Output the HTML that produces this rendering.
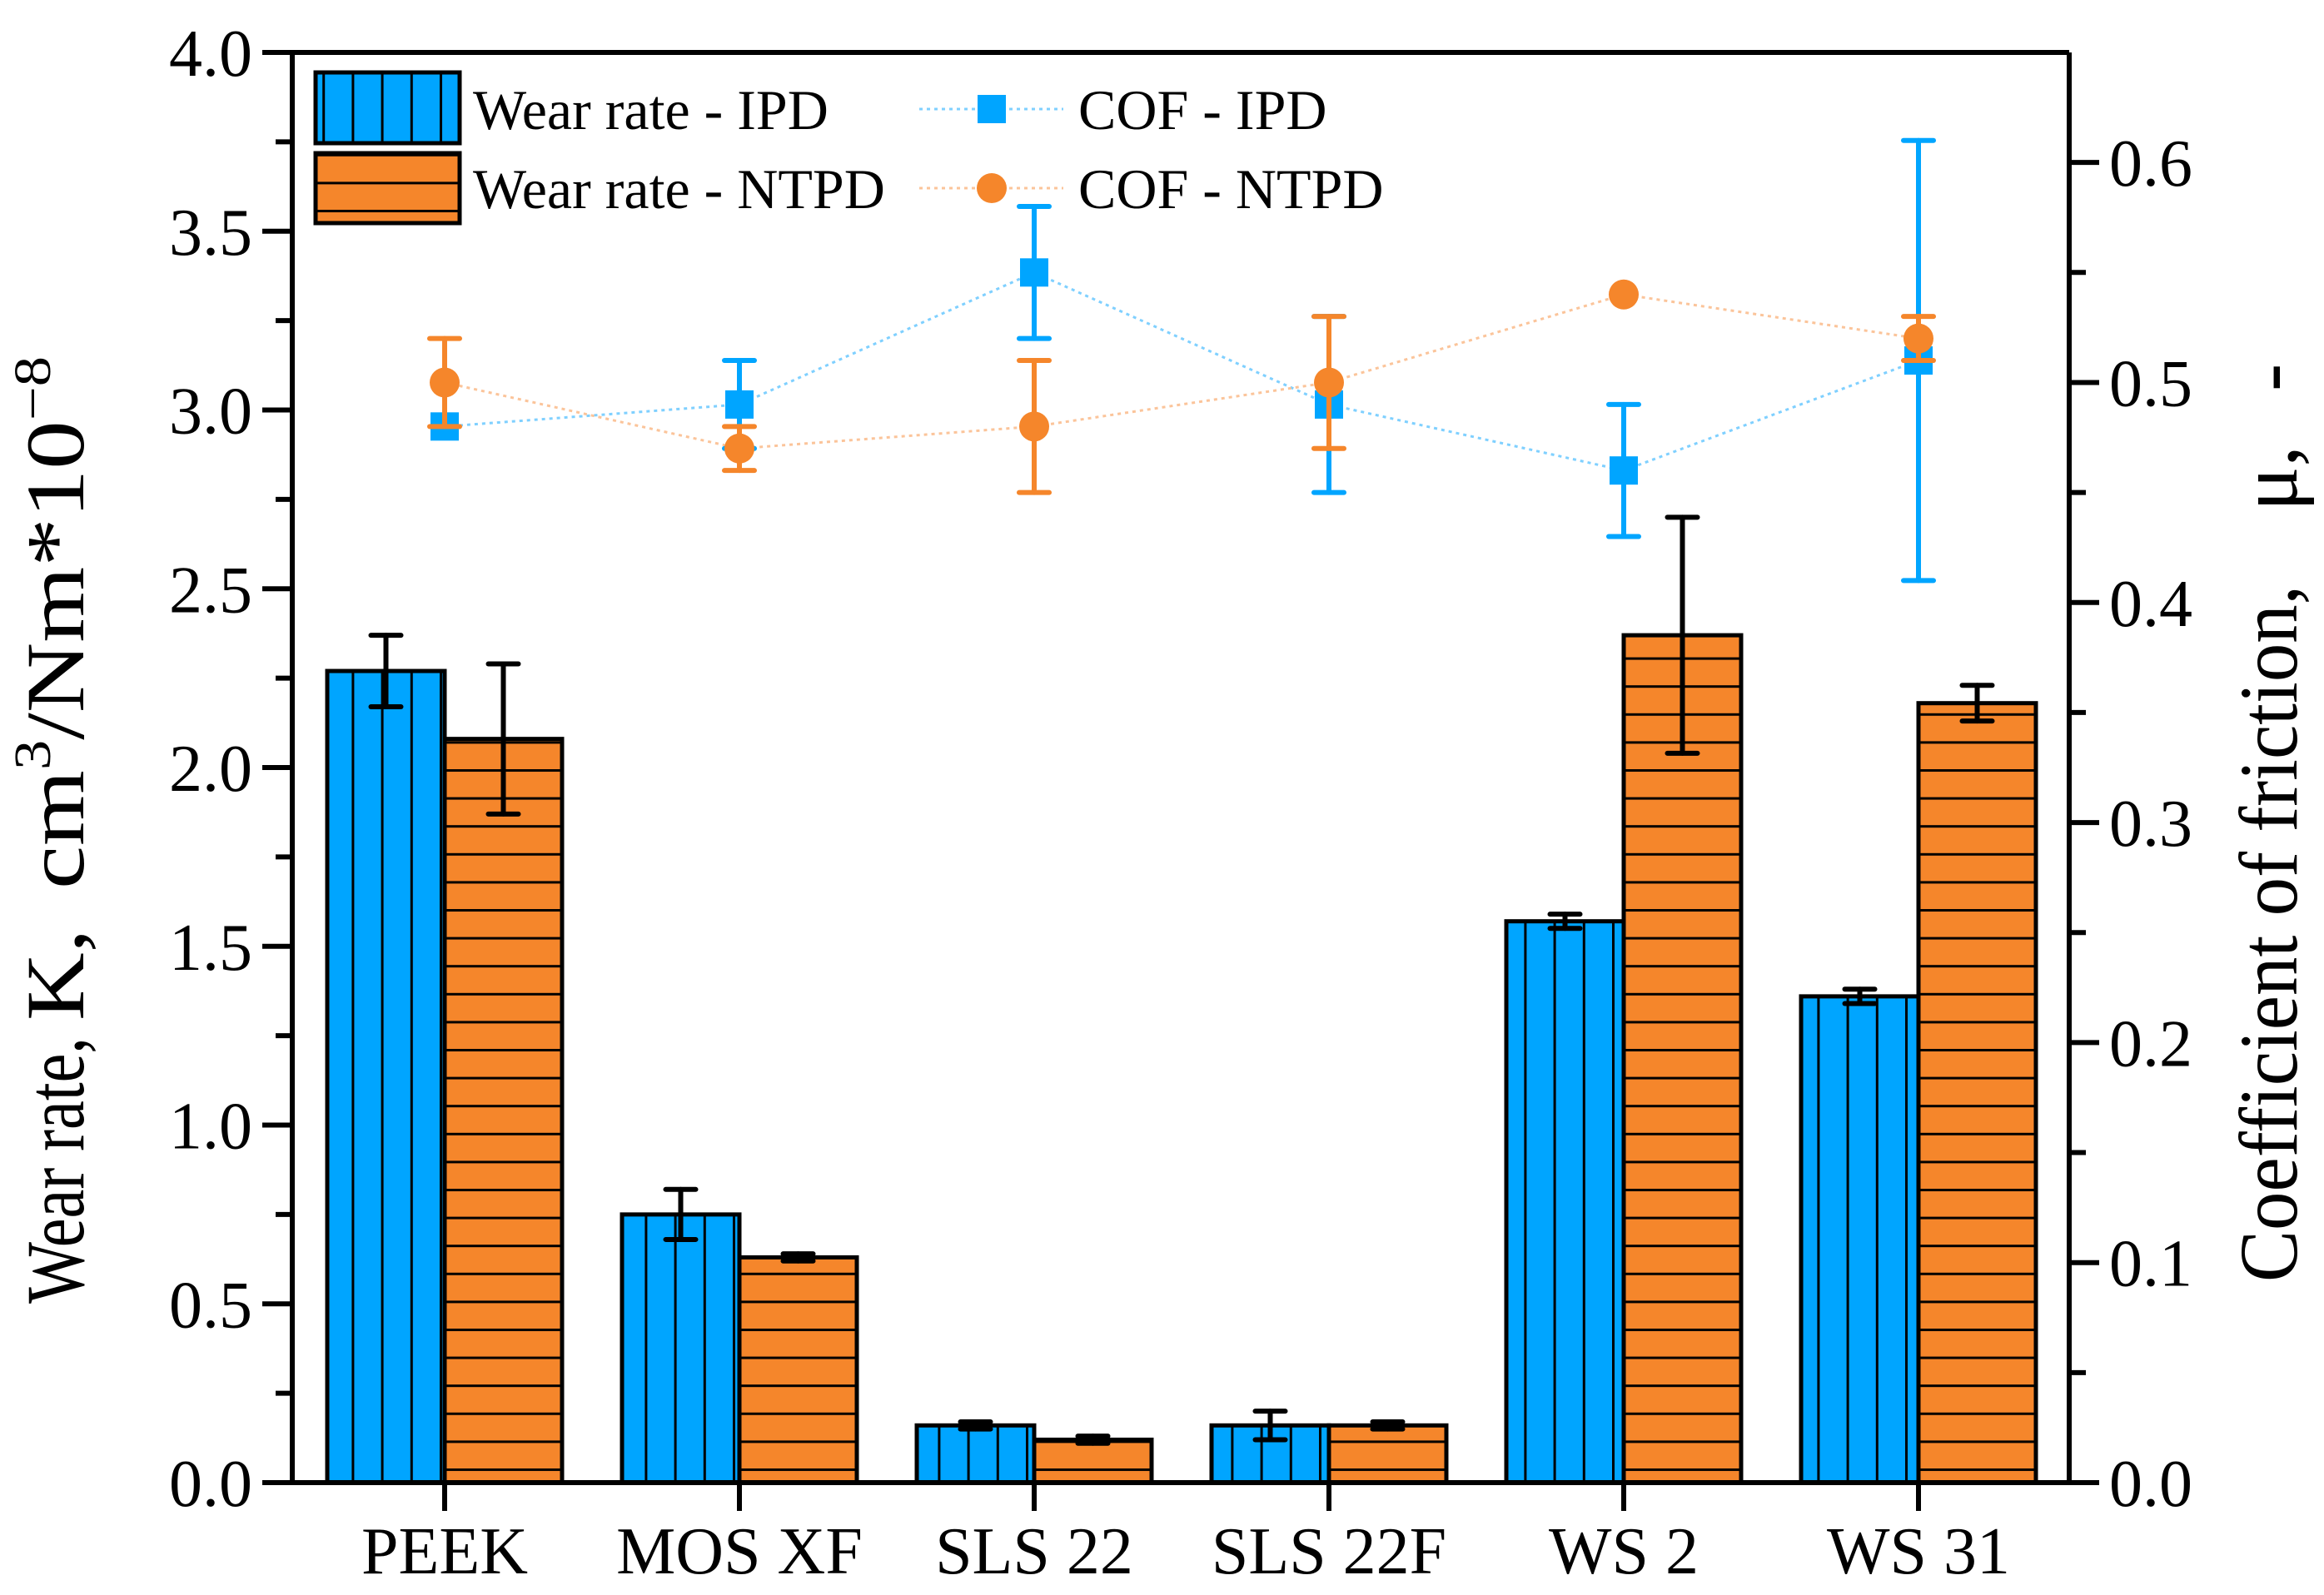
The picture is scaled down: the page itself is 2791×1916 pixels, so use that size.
<!DOCTYPE html>
<html><head><meta charset="utf-8">
<style>
html,body{margin:0;padding:0;background:#fff;}
svg{display:block;font-family:"Liberation Serif",serif;}
</style></head>
<body>
<svg id="chart" width="2791" height="1916" viewBox="0 0 2791 1916" xmlns="http://www.w3.org/2000/svg">
<defs>
<pattern id="vhatch" patternUnits="userSpaceOnUse" x="0" y="0" width="35.2" height="20">
<rect width="35.2" height="20" fill="#00a5ff"/><rect x="0" y="0" width="3" height="20" fill="#000"/>
</pattern>
<pattern id="hhatch" patternUnits="userSpaceOnUse" x="0" y="1764" width="20" height="33.6">
<rect width="20" height="33.6" fill="#f5862b"/><rect x="0" y="0" width="20" height="3" fill="#000"/>
</pattern>
</defs>
<g id="plot"></g>
</svg>
<script>
const categories = ["PEEK","MOS XF","SLS 22","SLS 22F","WS 2","WS 31"];
const wearIPD = [2.27,0.75,0.16,0.16,1.57,1.36];
const wearIPDErr = [0.10,0.07,0.01,0.04,0.02,0.02];
const wearNTPD = [2.08,0.63,0.12,0.16,2.37,2.18];
const wearNTPDErr = [0.21,0.01,0.01,0.01,0.33,0.05];
const cofIPD = [0.48,0.49,0.55,0.49,0.46,0.51];
const cofIPDErr = [0.00,0.02,0.03,0.04,0.03,0.10];
const cofNTPD = [0.50,0.47,0.48,0.50,0.54,0.52];
const cofNTPDErr = [0.02,0.01,0.03,0.03,0.00,0.01];
const leftTicks = ["0.0","0.5","1.0","1.5","2.0","2.5","3.0","3.5","4.0"];
const rightTicks = ["0.0","0.1","0.2","0.3","0.4","0.5","0.6"];

const NS="http://www.w3.org/2000/svg";
const g=document.getElementById('plot');
const L=351,R=2485,T=63,B=1781;
const yL=v=>B-(B-T)*v/4.0;
const yR=v=>B-(B-T)*v/0.65;
const xC=i=>534+354*i;
const BW=141;
function mk(tag,attrs,parent){const e=document.createElementNS(NS,tag);for(const k in attrs)e.setAttribute(k,attrs[k]);(parent||g).appendChild(e);return e;}

categories.forEach((c,i)=>{
  let r=mk('rect',{x:xC(i)-BW,y:yL(wearIPD[i]),width:BW,height:B-yL(wearIPD[i]),fill:'url(#vhatch)',stroke:'#000','stroke-width':5});
  
  
  let r2=mk('rect',{x:xC(i),y:yL(wearNTPD[i]),width:BW,height:B-yL(wearNTPD[i]),fill:'url(#hhatch)',stroke:'#000','stroke-width':5});
  
  
});
function errbar(x,y1,y2,color,w,name){
  const eg=mk('g',{stroke:color,'stroke-width':w,'stroke-linecap':'round'});
  
  
  mk('line',{x1:x,x2:x,y1:y1,y2:y2},eg);
  mk('line',{x1:x-18,x2:x+18,y1:y1,y2:y1},eg);
  mk('line',{x1:x-18,x2:x+18,y1:y2,y2:y2},eg);
}
categories.forEach((c,i)=>{
  errbar(xC(i)-BW/2,yL(wearIPD[i]+wearIPDErr[i]),yL(wearIPD[i]-wearIPDErr[i]),'#000',6,'error-bar-ipd');
  errbar(xC(i)+BW/2,yL(wearNTPD[i]+wearNTPDErr[i]),yL(wearNTPD[i]-wearNTPDErr[i]),'#000',6,'error-bar-ntpd');
});
const lineI=mk('polyline',{points:cofIPD.map((v,i)=>xC(i)+','+yR(v)).join(' '),fill:'none',stroke:'#7fd0ff','stroke-width':3,'stroke-dasharray':'4 5'});


const lineN=mk('polyline',{points:cofNTPD.map((v,i)=>xC(i)+','+yR(v)).join(' '),fill:'none',stroke:'#fbc49a','stroke-width':3,'stroke-dasharray':'4 5'});


categories.forEach((c,i)=>{
  const s=mk('rect',{x:xC(i)-17,y:yR(cofIPD[i])-17,width:34,height:34,fill:'#00a5ff'});
  
  
  if(cofIPDErr[i]>0) errbar(xC(i),yR(cofIPD[i]+cofIPDErr[i]),yR(cofIPD[i]-cofIPDErr[i]),'#00a5ff',6,'cof-ipd-error');
});
categories.forEach((c,i)=>{
  const s=mk('circle',{cx:xC(i),cy:yR(cofNTPD[i]),r:18,fill:'#f5862b'});
  
  
  if(cofNTPDErr[i]>0) errbar(xC(i),yR(cofNTPD[i]+cofNTPDErr[i]),yR(cofNTPD[i]-cofNTPDErr[i]),'#f5862b',6,'cof-ntpd-error');
});
const ax=mk('g',{stroke:'#000','stroke-width':6,fill:'none'});


mk('line',{x1:L,x2:L,y1:T,y2:B},ax);
mk('line',{x1:R,x2:R,y1:T,y2:B},ax);
mk('line',{x1:L-36,x2:R+36,y1:B,y2:B},ax);
mk('line',{x1:L-36,x2:R,y1:T,y2:T},ax);
for(let k=0;k<=16;k++){const v=k*0.25,y=yL(v);mk('line',{x1:L-(k%2?20:36),x2:L,y1:y,y2:y},ax);}
leftTicks.forEach(t=>{
  const e=mk('text',{x:L-48,y:yL(parseFloat(t))+28,'text-anchor':'end','font-size':80,fill:'#000'});
  e.textContent=t;
  
  
});
for(let k=0;k<=12;k++){const v=k*0.05,y=yR(v);mk('line',{x1:R,x2:R+(k%2?20:36),y1:y,y2:y},ax);}
rightTicks.forEach(t=>{
  const e=mk('text',{x:R+48,y:yR(parseFloat(t))+28,'text-anchor':'start','font-size':80,fill:'#000'});
  e.textContent=t;
  
  
});
categories.forEach((c,i)=>{
  mk('line',{x1:xC(i),x2:xC(i),y1:B,y2:B+34},ax);
  const e=mk('text',{x:xC(i),y:1890,'text-anchor':'middle','font-size':80,fill:'#000'});
  e.textContent=c;
  
  
});
</script>
<svg style="position:absolute;left:0;top:0" width="2791" height="1916">
<g transform="translate(100,0) rotate(-90)" font-family="Liberation Serif, serif" font-size="100">
<text x="-1566" y="0" textLength="320" lengthAdjust="spacingAndGlyphs">Wear rate,</text>
<text x="-1226" y="0" textLength="110" lengthAdjust="spacingAndGlyphs">K,</text>
<text x="-1068" y="0" textLength="640" lengthAdjust="spacingAndGlyphs">cm<tspan font-size="62" dy="-40">3</tspan><tspan dy="40">/Nm*10</tspan><tspan font-size="62" dy="-40">−8</tspan></text>
</g>
<g transform="translate(2758,0) rotate(-90)" font-family="Liberation Serif, serif" font-size="100">
<text x="-1540" y="0" textLength="837" lengthAdjust="spacingAndGlyphs">Coefficient of friction,</text>
<text x="-614" y="0">μ,</text>
<text x="-470" y="0">-</text>
</g>
<g>
<rect x="379" y="87" width="173" height="85" fill="url(#vhatch)" stroke="#000" stroke-width="5"/>
<rect x="379" y="184" width="173" height="84" fill="url(#hhatch)" stroke="#000" stroke-width="5"/>
<text x="568" y="155" font-family="Liberation Serif, serif" font-size="68">Wear rate - IPD</text>
<text x="568" y="250" font-family="Liberation Serif, serif" font-size="68">Wear rate - NTPD</text>
<line x1="1104" x2="1277" y1="131" y2="131" stroke="#7fd0ff" stroke-width="3" stroke-dasharray="4 5"/>
<rect x="1174" y="114" width="34" height="34" fill="#00a5ff"/>
<line x1="1104" x2="1277" y1="226" y2="226" stroke="#fbc49a" stroke-width="3" stroke-dasharray="4 5"/>
<circle cx="1191" cy="226" r="18" fill="#f5862b"/>
<text x="1295" y="155" font-family="Liberation Serif, serif" font-size="68">COF - IPD</text>
<text x="1295" y="250" font-family="Liberation Serif, serif" font-size="68">COF - NTPD</text>
</g>
</svg>
</body></html>
